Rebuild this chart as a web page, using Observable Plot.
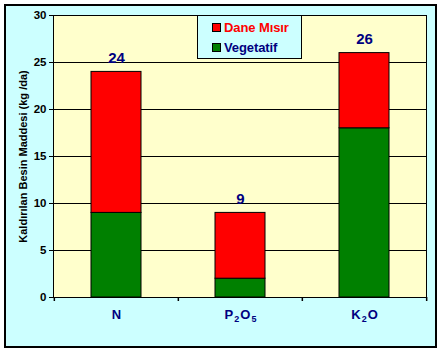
<!DOCTYPE html>
<html>
<head>
<meta charset="utf-8">
<script src="https://cdn.jsdelivr.net/npm/d3@7"></script>
<script src="https://cdn.jsdelivr.net/npm/@observablehq/plot@0.6"></script>
<style>
  html, body { margin: 0; padding: 0; background: #ffffff; }
  #wrap { position: relative; width: 441px; height: 353px; font-family: "Liberation Sans", Arial, sans-serif; }
  #box { position: absolute; left: 4px; top: 4px; width: 429px; height: 340px; border: 2px solid #000; background: #CCFFFF; }
  #chart { position: absolute; left: 0; top: 0; }
  #legend { position: absolute; left: 197px; top: 15px; width: 103px; height: 42px; border: 1px solid #000; background: #CCFFFF; font-weight: bold; font-size: 13px; letter-spacing: -0.1px; }
  .item { position: absolute; left: 14px; display: flex; align-items: center; }
  .sw { width: 7px; height: 7px; border: 1px solid #000; margin-right: 3px; }
</style>
</head>
<body>
<div id="wrap">
  <div id="box"></div>
  <div id="chart"></div>
  <div id="legend"></div>
</div>
<script>
const categories = ["N", "P₂O₅", "K₂O"];
const vegetatif = [9, 2, 18];
const daneMisir = [15, 7, 8];
const totals = [24, 9, 26];
const seriesNames = ["Vegetatif", "Dane Mısır"];
const seriesColors = ["#008000", "#FF0000"];
const legendOrder = ["Dane Mısır", "Vegetatif"];
const legendTextColors = ["#FF0000", "#000080"];
const yTicks = [0, 5, 10, 15, 20, 25, 30];
const yTitle = "Kaldırılan Besin Maddesi (kg /da)";

const rows = [];
categories.forEach((c, i) => rows.push({cat: c, series: seriesNames[0], value: vegetatif[i]}));
categories.forEach((c, i) => rows.push({cat: c, series: seriesNames[1], value: daneMisir[i]}));
const totalRows = categories.map((c, i) => ({cat: c, total: totals[i]}));

const step = (441 - 53 - 15) / categories.length;

const chart = Plot.plot({
  width: 441,
  height: 353,
  marginLeft: 53,
  marginRight: 15,
  marginTop: 15,
  marginBottom: 56,
  style: {background: "transparent", fontFamily: "'Liberation Sans', Arial, sans-serif"},
  x: {domain: categories, paddingInner: 0.6, paddingOuter: 0.3, label: null},
  y: {domain: [0, 30], label: null},
  color: {domain: seriesNames, range: seriesColors},
  marks: [
    Plot.frame({fill: "#FFFFCC"}),
    Plot.gridY(yTicks.slice(1, -1), {stroke: "#000", strokeOpacity: 1}),
    Plot.barY(rows, {x: "cat", y: "value", fill: "series", stroke: "#000", strokeWidth: 1}),
    Plot.text(totalRows, {x: "cat", y: "total", text: d => String(d.total), dy: -14, fill: "#000080", fontSize: 15, fontWeight: "bold"}),
    Plot.frame({stroke: "#000"}),
    Plot.ruleX(categories, {x: d => d, y1: 0, y2: 0, dx: -step / 2, insetBottom: -4, stroke: "#000", strokeWidth: 1.5}),
    Plot.ruleX([categories[categories.length - 1]], {x: d => d, y1: 0, y2: 0, dx: step / 2, insetBottom: -4, stroke: "#000", strokeWidth: 1.5}),
    Plot.axisY({ticks: yTicks, tickSize: 4, tickPadding: 3, fontSize: 11.5, fontWeight: "bold", fill: "#000", stroke: "#000", label: yTitle, labelAnchor: "center", labelArrow: "none", labelOffset: 34}),
    Plot.axisX({tickSize: 0, tickPadding: 12, fontSize: 13, fontWeight: "bold", fill: "#000080"})
  ]
});
chart.querySelectorAll("[aria-label='y-axis label'] text, [aria-label='y-axis label']").forEach(el => {
  el.setAttribute("font-weight", "bold");
  el.setAttribute("font-size", "11");
});
// render subscripts in x tick labels as lowered, smaller digits
const subMap = {"₂": "2", "₅": "5"};
chart.querySelectorAll("[aria-label='x-axis tick label'] text").forEach(el => {
  const s = el.textContent;
  if (!/[₂₅]/.test(s)) return;
  el.textContent = "";
  for (const ch of s) {
    const ts = document.createElementNS("http://www.w3.org/2000/svg", "tspan");
    if (subMap[ch]) {
      ts.textContent = subMap[ch];
      ts.setAttribute("font-size", "9");
      ts.setAttribute("dy", "3");
      ts.setAttribute("dx", "1");
    } else {
      ts.textContent = ch;
      if (el.childNodes.length) { ts.setAttribute("dy", "-3"); ts.setAttribute("dx", "1"); }
    }
    el.appendChild(ts);
  }
});
document.getElementById("chart").appendChild(chart);

const legend = document.getElementById("legend");
legendOrder.forEach((name, i) => {
  const item = document.createElement("div");
  item.className = "item";
  item.style.top = (4 + i * 20) + "px";
  const sw = document.createElement("div");
  sw.className = "sw";
  sw.style.background = seriesColors[seriesNames.indexOf(name)];
  const t = document.createElement("span");
  t.textContent = name;
  t.style.color = legendTextColors[i];
  item.appendChild(sw);
  item.appendChild(t);
  legend.appendChild(item);
});
</script>
</body>
</html>
